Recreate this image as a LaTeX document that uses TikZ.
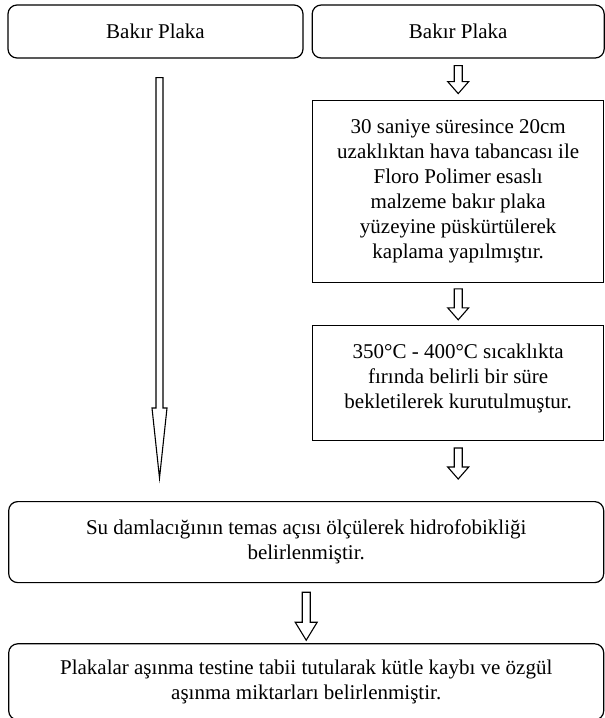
\documentclass[tikz,border=0pt]{standalone}
\usepackage{fontspec}
\setmainfont{Liberation Serif}
\usetikzlibrary{positioning,calc}

% hollow block arrow: start, tip, shaft half width, head half width, head length
\newcommand{\hollowarrow}[5]{%
	\draw[arrowline] ($(#1)+(-#3,0)$) -- ($(#2)+(-#3,#5)$) -- ($(#2)+(-#4,#5)$) -- (#2) -- ($(#2)+(#4,#5)$) -- ($(#2)+(#3,#5)$) -- ($(#1)+(#3,0)$) -- cycle;}

\begin{document}
\begin{tikzpicture}[x=1pt,y=1pt,font=\fontsize{21}{25}\selectfont, roundbox/.style={rectangle,draw,line width=1.2pt,align=center,inner sep=0pt,rounded corners=9}, plainbox/.style={rectangle,draw,line width=1.2pt,align=center,inner sep=0pt}, arrowline/.style={draw,line width=1.1pt,line join=miter}]
	\useasboundingbox (0,0) rectangle (605,-718);
	
	\node[roundbox, minimum width=295pt, minimum height=53pt] (plate-left) at (155.5,-31.5) {Bakır Plaka};
	\node[roundbox, minimum width=292pt, minimum height=53pt, right = 8pt of plate-left] (plate-right) {Bakır Plaka};
	
	\node[plainbox, minimum width=291pt, minimum height=182pt, below = 41pt of plate-right] (coating) {30 saniye süresince 20cm\\uzaklıktan hava tabancası ile\\Floro Polimer esaslı\\malzeme bakır plaka\\yüzeyine püskürtülerek\\kaplama yapılmıştır.};
	\node[plainbox, minimum width=291pt, minimum height=115pt, below = 42pt of coating] (drying) {350°C - 400°C sıcaklıkta\\fırında belirli bir süre\\bekletilerek kurutulmuştur.\\[-11pt]};
	
	\node[roundbox, minimum width=595pt, minimum height=81pt, below = 60pt of drying.south east, anchor=north east] (contact) {Su damlacığının temas açısı ölçülerek hidrofobikliği\\belirlenmiştir.};
	\node[roundbox, minimum width=595pt, minimum height=76pt, below = 60pt of contact] (wear) {Plakalar aşınma testine tabii tutularak kütle kaybı ve özgül\\aşınma miktarları belirlenmiştir.};
	
	% long arrow on the left
	\coordinate (long-start) at ($(plate-left.south)+(4,-19)$);
	\coordinate (long-tip) at ($(contact.north -| long-start)+(0,23)$);
	\hollowarrow{long-start}{long-tip}{3.5}{7.5}{70}
	
	% short arrows on the right
	\hollowarrow{$(plate-right.south)+(0,-7)$}{$(coating.north)+(0,6)$}{4}{10.5}{12}
	\hollowarrow{$(coating.south)+(0,-6)$}{$(drying.north)+(0,5)$}{4}{10.5}{12}
	\hollowarrow{$(drying.south)+(0,-7)$}{$(drying.south)+(0,-38)$}{4}{10.5}{12}
	\hollowarrow{$(contact.south)+(0,-9)$}{$(wear.north)+(0,3)$}{4}{11}{18}
	
\end{tikzpicture}
\end{document}
